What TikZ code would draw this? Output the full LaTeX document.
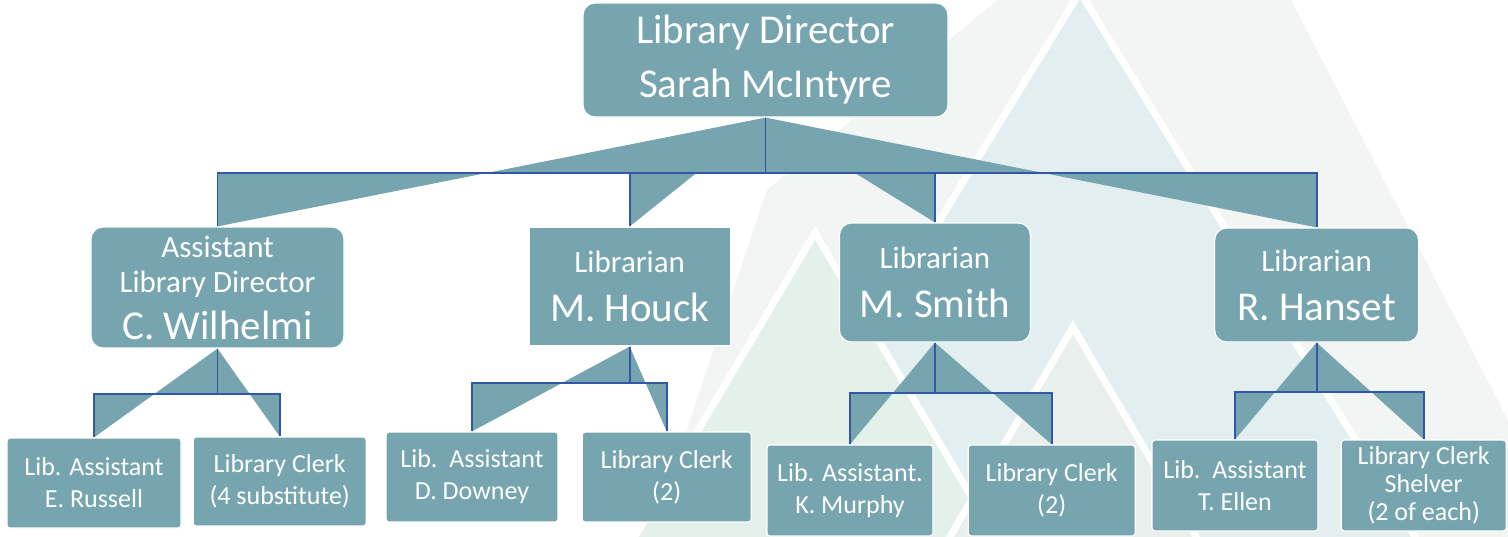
\documentclass[tikz,border=0pt]{standalone}
\usepackage{fontspec}
\setmainfont{Carlito}
\usetikzlibrary{positioning}

\definecolor{boxteal}{HTML}{76A5AF}
\definecolor{linkblue}{HTML}{3157A8}
\definecolor{bggray}{HTML}{F3F5F4}
\definecolor{bgteal}{HTML}{E2EEEF}
\definecolor{bggreen}{HTML}{E4F0EA}
\definecolor{bgmist}{HTML}{E8EFEC}

\newcommand{\headsize}{\fontsize{41}{54}\selectfont}
\newcommand{\rolesize}{\fontsize{31}{35}\selectfont}
\newcommand{\namesize}{\fontsize{41}{44}\selectfont}
\newcommand{\staffsize}{\fontsize{26}{32}\selectfont}

\begin{document}
\begin{tikzpicture}[
    x=1pt, y=-1pt,
    % Style definitions
    post/.style={fill=boxteal, draw=white, line width=1.2pt, text=white, align=center, inner sep=0pt, rounded corners=12pt},
    staff/.style={post, rounded corners=3pt, font=\staffsize},
    wedge/.style={fill=boxteal},
    link/.style={draw=linkblue, line width=1.8pt},
    mountain/.style={draw=white, line width=7pt},
]

%% ---------- BACKGROUND ----------
\fill[white] (0,0) rectangle (1508,536);
\useasboundingbox (0,0) rectangle (1508,536);
\fill[bggray] (1000,-2) -- (1290,-2) -- (1570,540) -- (650,540) -- (767,190) -- cycle;
\filldraw[mountain, fill=bgteal] (1080,-8) -- (1420,545) -- (740,545) -- cycle;
\filldraw[mountain, fill=bggreen] (815,233) -- (1000,545) -- (630,545) -- cycle;
\filldraw[mountain, fill=bgmist] (1073,327) -- (1201,545) -- (945,545) -- cycle;

%% ---------- DIRECTOR ----------
\node[post, font=\headsize, minimum width=365pt, minimum height=114pt] (director) at (765.5,60) {Library Director\\Sarah McIntyre};

%% ---------- SECOND ROW ----------
\node[post, font=\rolesize, minimum width=253pt, minimum height=121pt] (asst_director) at (217.5,287.5) {Assistant\\Library Director\\[12pt]{\namesize C. Wilhelmi}};
\node[post, rounded corners=0pt, font=\rolesize, minimum width=201pt, minimum height=119pt, right=184pt of asst_director, yshift=1pt] (houck) {Librarian\\[14pt]{\namesize M. Houck}};
\node[post, font=\rolesize, minimum width=191pt, minimum height=119pt, right=108pt of houck, yshift=4pt] (smith) {Librarian\\[14pt]{\namesize M. Smith}};
\node[post, font=\rolesize, minimum width=204pt, minimum height=114pt, right=183pt of smith, yshift=-2.5pt] (hanset) {Librarian\\[14pt]{\namesize R. Hanset}};

%% ---------- STAFF ROW ----------
\node[staff, minimum width=174pt, minimum height=90pt] (russell) at (94,483) {Lib. Assistant\\E. Russell};
\node[staff, minimum width=173pt, minimum height=89pt, right=11pt of russell, yshift=1.5pt] (clerk_a) {Library Clerk\\(4 substitute)};
\node[staff, minimum width=172pt, minimum height=90pt] (downey) at (472,477) {Lib.~~Assistant\\D. Downey};
\node[staff, minimum width=169pt, minimum height=90pt, right=23pt of downey] (clerk_b) {Library Clerk\\(2)};
\node[staff, minimum width=166pt, minimum height=91pt] (murphy) at (850,490.5) {Lib. Assistant.\\K. Murphy};
\node[staff, minimum width=167pt, minimum height=91pt, right=34pt of murphy] (clerk_c) {Library Clerk\\(2)};
\node[staff, minimum width=166pt, minimum height=91pt] (ellen) at (1235,485.5) {Lib.~~Assistant\\T. Ellen};
\node[staff, font=\fontsize{26}{28}\selectfont, minimum width=165pt, minimum height=91pt, right=22pt of ellen] (shelver) {Library Clerk\\Shelver\\(2 of each)};

%% ========== CONNECTORS ==========

% Director to second row
\foreach \kid in {asst_director, houck, smith, hanset} {
    \fill[wedge] (director.south) -- ++(0,55) -| (\kid.north) -- cycle;
    \draw[link] (director.south) -- ++(0,55) -| (\kid.north);
}

% Second row to staff
\foreach \boss/\drop/\left/\right in {asst_director/45/russell/clerk_a, houck/36/downey/clerk_b, smith/50/murphy/clerk_c, hanset/49/ellen/shelver} {
    \foreach \kid in {\left, \right} {
        \fill[wedge] (\boss.south) -- ++(0,\drop) -| (\kid.north) -- cycle;
        \draw[link] (\boss.south) -- ++(0,\drop) -| (\kid.north);
    }
}

\end{tikzpicture}
\end{document}
